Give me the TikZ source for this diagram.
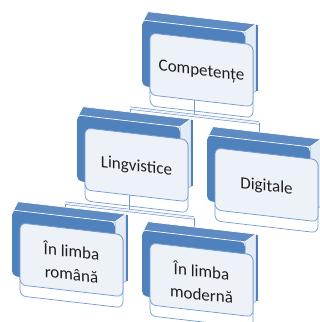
\documentclass[tikz,border=0pt]{standalone}
\usepackage{fontspec}
\setmainfont{Carlito}
\definecolor{boxblue}{HTML}{4F81BD}
\definecolor{cardfill}{HTML}{EDF1F8}
\definecolor{cardline}{HTML}{7198CD}
\definecolor{sidefill}{HTML}{E3EBF5}
\pgfdeclarelayer{bg}
\pgfsetlayers{bg,main}
\tikzset{
  topfacestyle/.style={fill=boxblue!92!white, draw=white, line width=0.7pt},
  sidefacestyle/.style={fill=sidefill, draw=cardline, line width=0.5pt},
  sideedgestyle/.style={draw=boxblue, line width=1.3pt},
  frontfacestyle/.style={fill=boxblue, rounded corners=5pt},
  ghoststyle/.style={draw=cardline, line width=0.7pt, rounded corners=6pt},
  cardstyle/.style={fill=cardfill, draw=cardline, line width=0.7pt, rounded corners=6pt},
  labelstyle/.style={transform shape, font=\fontsize{17}{23}\selectfont, align=center, text=black!88},
  stemstyle/.style={draw=cardline, line width=0.7pt},
  barstyle/.style={draw=cardline, line width=0.6pt, double=cardfill, double distance=2pt},
}
% #1 name, #2 x, #3 y (pixels, y down), #4 text
\newcommand\smartunit[4]{%
  \begin{scope}[shift={(#2,#3)}, yslant=-0.115]
    \coordinate (#1-stem) at (52,74);
    \coordinate (#1-hubL) at (-12,89.5);
    \coordinate (#1-hub) at (52,89.5);
    \coordinate (#1-hubR) at (117,89.5);
    \coordinate (#1-in) at (52.5,-9);
    \path[topfacestyle] (1,1) -- (6,-9) -- (114,-9) -- (103,1) -- cycle;
    \path[sidefacestyle] (103,0) -- (114,-9) -- (114,58) -- (103,66) -- cycle;
    \draw[white, line width=0.8pt] (103,0) -- (114,-9);
    \path[frontfacestyle] (0,66) -- (0,0) -- (103,0) -- (103,66) -- cycle;
    \draw[white, line width=0.7pt] (2,0) -- (103,0);
    \path[ghoststyle] (8,12) rectangle (111,85);
    \path[cardstyle] (8,12) rectangle (111,74);
    \path[sideedgestyle] (115,-8) -- (115,58);
    \node[labelstyle] (#1) at (59.5,45) {#4};
  \end{scope}}
\begin{document}
\begin{tikzpicture}[x=1pt, y=-1pt]
  \useasboundingbox (0,0) rectangle (320,322);
  \clip (0,0) rectangle (320,322);
  % units
  \smartunit{comp}{142}{20}{Competențe}
  \smartunit{ling}{77}{115}{Lingvistice}
  \smartunit{dig}{207}{135}{Digitale}
  \smartunit{rom}{12}{210}{În limba\\română}
  \smartunit{mod}{142}{230}{În limba\\modernă}
  % connectors, behind the units
  \begin{pgfonlayer}{bg}
    \draw[stemstyle] (comp-stem) -- (comp-hub);
    \draw[stemstyle] (comp-hubL) -- (comp-hubL |- ling-in);
    \draw[stemstyle] (comp-hubR) -- (comp-hubR |- dig-in);
    \draw[barstyle] (comp-hubL) -- (comp-hubR);
    \draw[stemstyle] (ling-stem) -- (ling-hub);
    \draw[stemstyle] (ling-hubL) -- (ling-hubL |- rom-in);
    \draw[stemstyle] (ling-hubR) -- (ling-hubR |- mod-in);
    \draw[barstyle] (ling-hubL) -- (ling-hubR);
  \end{pgfonlayer}
\end{tikzpicture}
\end{document}
